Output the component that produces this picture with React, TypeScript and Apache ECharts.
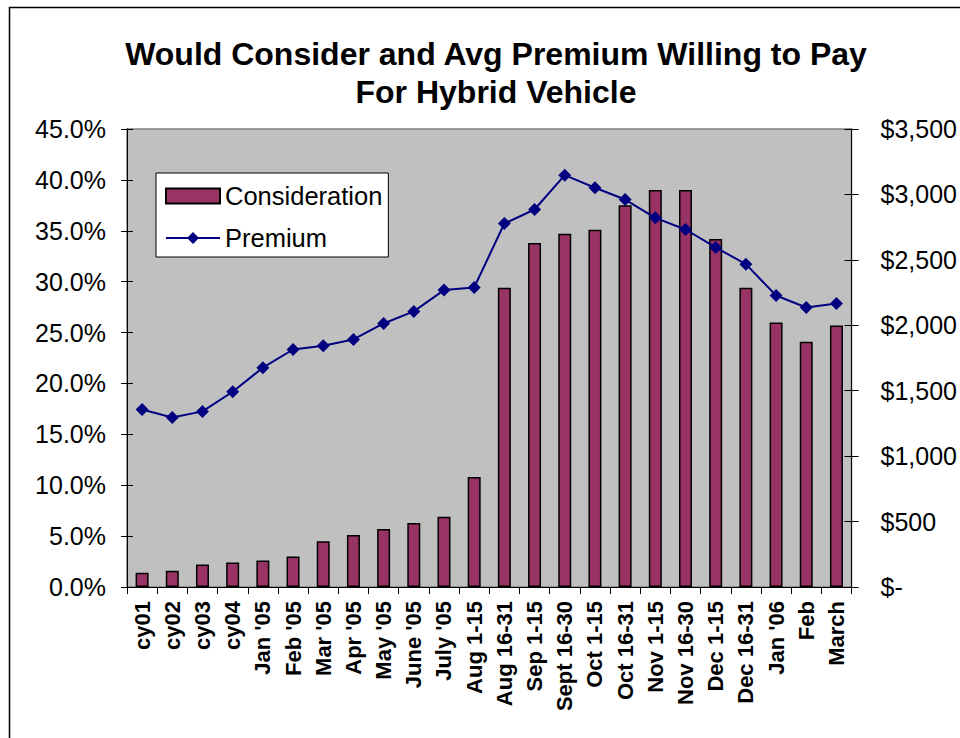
import React, { useEffect, useRef } from "react";
import * as echarts from "echarts";

const categories = [
  "cy01", "cy02", "cy03", "cy04", "Jan '05", "Feb '05", "Mar '05", "Apr '05",
  "May '05", "June '05", "July '05", "Aug 1-15", "Aug 16-31", "Sep 1-15",
  "Sept 16-30", "Oct 1-15", "Oct 16-31", "Nov 1-15", "Nov 16-30", "Dec 1-15",
  "Dec 16-31", "Jan '06", "Feb", "March",
];

const consideration = [
  1.4, 1.6, 2.2, 2.4, 2.6, 3.0, 4.5, 5.1, 5.7, 6.3, 6.9, 10.8,
  29.4, 33.8, 34.7, 35.1, 37.5, 39.0, 39.0, 34.2, 29.4, 26.0, 24.1, 25.7,
];

const premium = [
  1357, 1296, 1342, 1492, 1676, 1815, 1844, 1892, 2014, 2106, 2269, 2289,
  2778, 2885, 3147, 3051, 2961, 2821, 2732, 2595, 2467, 2228, 2136, 2167,
];

const FONT = "'Liberation Sans', Arial, sans-serif";

export default function App() {
  const ref = useRef<HTMLDivElement>(null);

  useEffect(() => {
    if (!ref.current) return;
    const chart = echarts.init(ref.current, undefined, { renderer: "svg" });
    chart.setOption({
      animation: false,
      backgroundColor: "#ffffff",
      title: {
        text: "Would Consider and Avg Premium Willing to Pay\nFor Hybrid Vehicle",
        left: 491,
        top: 30,
        textAlign: "center",
        textStyle: {
          fontFamily: FONT,
          fontSize: 32,
          fontWeight: "bold",
          lineHeight: 38,
          color: "#000",
        },
      },
      graphic: [
        {
          type: "rect",
          shape: { x: 9.5, y: 7.5, width: 1000, height: 800 },
          style: { fill: "none", stroke: "#000", lineWidth: 1.5 },
          silent: true,
          z: 100,
        },
      ],
      legend: {
        orient: "vertical",
        left: 156,
        top: 173,
        backgroundColor: "#ffffff",
        borderColor: "#000",
        borderWidth: 1,
        padding: [10, 6, 6, 9],
        itemGap: 16,
        itemWidth: 54,
        itemHeight: 15,
        textStyle: { fontFamily: FONT, fontSize: 25.5, lineHeight: 26, color: "#000" },
        data: [
          { name: "Consideration", icon: "rect" },
          { name: "Premium" },
        ],
      },
      grid: {
        left: 127,
        right: 107,
        top: 129,
        bottom: 151,
        show: true,
        backgroundColor: "#c0c0c0",
        borderColor: "#808080",
        borderWidth: 1.5,
      },
      xAxis: {
        type: "category",
        data: categories,
        boundaryGap: true,
        axisLine: { lineStyle: { color: "#000", width: 1 } },
        axisTick: { show: true, length: 7, lineStyle: { color: "#000" } },
        axisLabel: {
          interval: 0,
          rotate: 90,
          margin: 14,
          fontFamily: FONT,
          fontSize: 22,
          fontWeight: "bold",
          color: "#000",
        },
      },
      yAxis: [
        {
          type: "value",
          min: 0,
          max: 45,
          interval: 5,
          position: "left",
          axisLine: { show: true, lineStyle: { color: "#000" } },
          axisTick: { show: true, length: 6, lineStyle: { color: "#000" } },
          splitLine: { show: false },
          axisLabel: {
            margin: 21,
            fontFamily: FONT,
            fontSize: 25,
            color: "#000",
            formatter: (v: number) => v.toFixed(1) + "%",
          },
        },
        {
          type: "value",
          min: 0,
          max: 3500,
          interval: 500,
          position: "right",
          axisLine: { show: true, lineStyle: { color: "#000" } },
          axisTick: { show: true, length: 7, lineStyle: { color: "#000" } },
          splitLine: { show: false },
          axisLabel: {
            margin: 29,
            fontFamily: FONT,
            fontSize: 25,
            color: "#000",
            formatter: (v: number) =>
              v === 0 ? "$-" : "$" + v.toLocaleString("en-US"),
          },
        },
        {
          type: "value",
          min: 0,
          max: 45,
          interval: 5,
          position: "left",
          axisLine: { show: false },
          axisTick: { show: true, inside: true, length: 6, lineStyle: { color: "#000" } },
          splitLine: { show: false },
          axisLabel: { show: false },
        },
        {
          type: "value",
          min: 0,
          max: 3500,
          interval: 500,
          position: "right",
          axisLine: { show: false },
          axisTick: { show: true, inside: true, length: 7, lineStyle: { color: "#000" } },
          splitLine: { show: false },
          axisLabel: { show: false },
        },
      ],
      series: [
        {
          name: "Consideration",
          type: "bar",
          yAxisIndex: 0,
          data: consideration,
          barWidth: 13,
          itemStyle: { color: "#993366", borderColor: "#000", borderWidth: 1.5 },
        },
        {
          name: "Premium",
          type: "line",
          yAxisIndex: 1,
          data: premium,
          symbol: "diamond",
          symbolSize: 13,
          lineStyle: { color: "#000080", width: 2 },
          itemStyle: { color: "#000080" },
          z: 3,
        },
      ],
    });
    return () => chart.dispose();
  }, []);

  return (
    <div
      ref={ref}
      style={{ position: "fixed", left: 0, top: 0, width: 960, height: 738 }}
    />
  );
}
